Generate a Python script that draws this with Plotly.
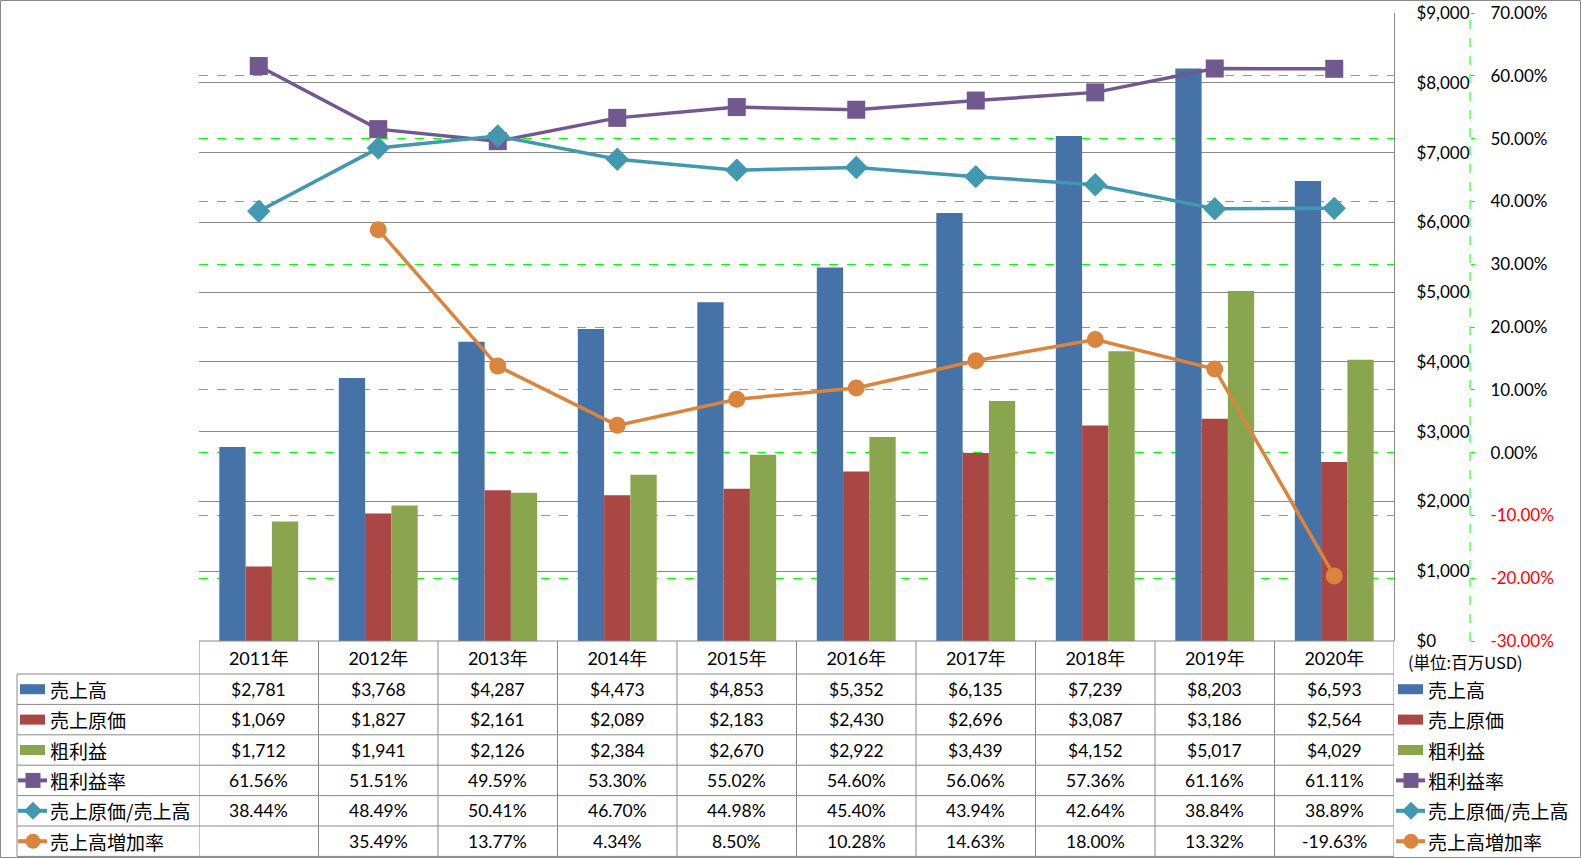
import plotly.graph_objects as go

# ---------------- data ----------------
years = ['2011年', '2012年', '2013年', '2014年', '2015年', '2016年', '2017年', '2018年', '2019年', '2020年']
sales = [2781, 3768, 4287, 4473, 4853, 5352, 6135, 7239, 8203, 6593]          # 売上高
cogs = [1069, 1827, 2161, 2089, 2183, 2430, 2696, 3087, 3186, 2564]            # 売上原価
gross = [1712, 1941, 2126, 2384, 2670, 2922, 3439, 4152, 5017, 4029]           # 粗利益
gm_rate = [61.56, 51.51, 49.59, 53.30, 55.02, 54.60, 56.06, 57.36, 61.16, 61.11]   # 粗利益率
cost_ratio = [38.44, 48.49, 50.41, 46.70, 44.98, 45.40, 43.94, 42.64, 38.84, 38.89]  # 売上原価/売上高
growth = [None, 35.49, 13.77, 4.34, 8.50, 10.28, 14.63, 18.00, 13.32, -19.63]      # 売上高増加率

pct_ticks = [-30, -20, -10, 0, 10, 20, 30, 40, 50, 60, 70]
usd_ticks = [0, 1000, 2000, 3000, 4000, 5000, 6000, 7000, 8000, 9000]
unit_label = '(単位:百万USD)'

# ---------------- style ----------------
W, H = 1581, 858
ML, MR, MT, MB = 199, 20, 13, 217
PW, PH = W - ML - MR, H - MT - MB
PLOT_RIGHT = 1394
AX2_X = 1470

C_BLUE, C_RED, C_GREEN = '#4572A7', '#AA4643', '#89A54E'
C_PURPLE, C_TEAL, C_ORANGE = '#71588F', '#4198AF', '#DB843D'
GRAY = '#898989'
LIME = '#00FF00'
NUM_FONT = 'Lato, Noto Sans CJK JP'
JP_FONT = 'Noto Sans CJK JP, Lato'


def px(x):
    return (x - ML) / PW


def py(y):
    return (H - MB - y) / PH


fig = go.Figure()

bar_series = [('売上高', sales, C_BLUE), ('売上原価', cogs, C_RED), ('粗利益', gross, C_GREEN)]
for name, vals, col in bar_series:
    fig.add_trace(go.Bar(x=years, y=vals, name=name, marker=dict(color=col, line=dict(width=0)),
                         showlegend=False))

line_series = [('粗利益率', gm_rate, C_PURPLE, 'square', 18),
               ('売上原価/売上高', cost_ratio, C_TEAL, 'diamond', 18),
               ('売上高増加率', growth, C_ORANGE, 'circle', 17)]
for name, vals, col, sym, size in line_series:
    fig.add_trace(go.Scatter(x=years, y=vals, name=name, yaxis='y2', mode='lines+markers',
                             line=dict(color=col, width=3.5),
                             marker=dict(symbol=sym, size=size, color=col, line=dict(width=0)),
                             showlegend=False))

pct_text = []
for v in pct_ticks:
    s = f'{v:.2f}%'
    pct_text.append(f"<span style='color:#FF0000'>{s}</span>" if v < 0 else s)

fig.update_layout(
    width=W, height=H,
    margin=dict(l=ML, r=MR, t=MT, b=MB, autoexpand=False),
    paper_bgcolor='white', plot_bgcolor='white',
    barmode='group', bargap=0.34, bargroupgap=0,
    font=dict(family=NUM_FONT, size=17, color='#000000'),
    xaxis=dict(domain=[0, (PLOT_RIGHT - ML) / PW], range=[-0.5, len(years) - 0.5],
               showgrid=False, zeroline=False, showline=False,
               ticks='', tickfont=dict(size=18, family=NUM_FONT), ticklabelstandoff=5,
               automargin=False),
    yaxis=dict(range=[0, 9000], tickvals=usd_ticks, ticktext=[f'${v:,}' for v in usd_ticks],
               side='right', anchor='x', showline=True, linecolor=GRAY, linewidth=1,
               showgrid=True, gridcolor=GRAY, gridwidth=1, zeroline=False, ticks='',
               ticklabelstandoff=18, tickfont=dict(size=17), automargin=False),
    yaxis2=dict(range=[-30, 70], tickvals=pct_ticks, ticktext=pct_text, overlaying='y',
                side='right', anchor='free', position=px(AX2_X), showline=False,
                showgrid=True, gridcolor=LIME, gridwidth=1, griddash='dash', zeroline=False,
                ticks='outside', ticklen=4, tickcolor=LIME, tickwidth=1,
                ticklabelstandoff=12, tickfont=dict(size=17), automargin=False),
)

shapes = []
annotations = []

# secondary axis line (dashed)
shapes.append(dict(type='line', xref='paper', yref='y2', x0=px(AX2_X), x1=px(AX2_X), y0=-30, y1=70,
                   line=dict(color=LIME, width=1, dash='dash')))

# outer chart border
shapes.append(dict(type='rect', xref='paper', yref='paper', x0=px(0.5), x1=px(W - 0.5),
                   y0=py(0.5), y1=py(H - 0.5), line=dict(color=GRAY, width=1)))

# ---------------- data table ----------------
HEAD_TOP, HEAD_BOT = 641, 674
ROW_H = 30.4
row_bounds = [HEAD_BOT + i * ROW_H for i in range(7)]
TABLE_LEFT = 17

shapes.append(dict(type='line', xref='paper', yref='paper', x0=px(ML), x1=px(PLOT_RIGHT),
                   y0=py(HEAD_TOP), y1=py(HEAD_TOP), line=dict(color=GRAY, width=1)))
for yb in row_bounds:
    shapes.append(dict(type='line', xref='paper', yref='paper', x0=px(TABLE_LEFT), x1=px(PLOT_RIGHT),
                       y0=py(yb), y1=py(yb), line=dict(color=GRAY, width=1)))
for i in range(len(years) + 1):
    shapes.append(dict(type='line', xref='x', yref='paper', x0=i - 0.5, x1=i - 0.5,
                       y0=py(HEAD_TOP), y1=py(row_bounds[-1]), line=dict(color=GRAY, width=1)))
shapes.append(dict(type='line', xref='paper', yref='paper', x0=px(TABLE_LEFT), x1=px(TABLE_LEFT),
                   y0=py(row_bounds[0]), y1=py(row_bounds[-1]), line=dict(color=GRAY, width=1)))

row_defs = [('売上高', [f'${v:,}' for v in sales], 'bar', C_BLUE, None),
            ('売上原価', [f'${v:,}' for v in cogs], 'bar', C_RED, None),
            ('粗利益', [f'${v:,}' for v in gross], 'bar', C_GREEN, None),
            ('粗利益率', [f'{v:.2f}%' for v in gm_rate], 'line', C_PURPLE, 'square'),
            ('売上原価/売上高', [f'{v:.2f}%' for v in cost_ratio], 'line', C_TEAL, 'diamond'),
            ('売上高増加率', ['' if v is None else f'{v:.2f}%' for v in growth], 'line', C_ORANGE, 'circle')]


def legend_icon(x0, yc, kind, col, sym):
    if kind == 'bar':
        shapes.append(dict(type='rect', xref='paper', yref='paper', x0=px(x0 + 2), x1=px(x0 + 27),
                           y0=py(yc - 5), y1=py(yc + 5), line=dict(width=0), fillcolor=col))
    else:
        shapes.append(dict(type='line', xref='paper', yref='paper', x0=px(x0), x1=px(x0 + 29),
                           y0=py(yc), y1=py(yc), line=dict(color=col, width=4)))
        cx = x0 + 15
        r = 7.5
        if sym == 'square':
            shapes.append(dict(type='rect', xref='paper', yref='paper', x0=px(cx - r), x1=px(cx + r),
                               y0=py(yc - r), y1=py(yc + r), line=dict(width=0), fillcolor=col))
        elif sym == 'circle':
            shapes.append(dict(type='circle', xref='paper', yref='paper', x0=px(cx - r), x1=px(cx + r),
                               y0=py(yc - r), y1=py(yc + r), line=dict(width=0), fillcolor=col))
        else:
            rd = 9
            path = (f'M {px(cx - rd)},{py(yc)} L {px(cx)},{py(yc - rd)} '
                    f'L {px(cx + rd)},{py(yc)} L {px(cx)},{py(yc + rd)} Z')
            shapes.append(dict(type='path', xref='paper', yref='paper', path=path,
                               line=dict(width=0), fillcolor=col))


for r, (label, texts, kind, col, sym) in enumerate(row_defs):
    yc = (row_bounds[r] + row_bounds[r + 1]) / 2
    legend_icon(18, yc, kind, col, sym)
    annotations.append(dict(xref='paper', yref='paper', x=px(48), y=py(yc), text=label,
                            showarrow=False, xanchor='left', yanchor='middle',
                            font=dict(family=JP_FONT, size=19, color='#000000')))
    legend_icon(1396, yc, kind, col, sym)
    annotations.append(dict(xref='paper', yref='paper', x=px(1426), y=py(yc), text=label,
                            showarrow=False, xanchor='left', yanchor='middle',
                            font=dict(family=JP_FONT, size=19, color='#000000')))
    for i, t in enumerate(texts):
        if t:
            annotations.append(dict(xref='x', yref='paper', x=years[i], y=py(yc), text=t,
                                    showarrow=False, xanchor='center', yanchor='middle',
                                    font=dict(family=NUM_FONT, size=17.5, color='#000000')))

annotations.append(dict(xref='paper', yref='paper', x=px(1406), y=py(662), text=unit_label,
                        showarrow=False, xanchor='left', yanchor='middle',
                        font=dict(family=JP_FONT, size=16.5, color='#000000')))

fig.update_layout(shapes=shapes, annotations=annotations)

post = ("document.body.style.margin='0';document.body.style.overflow='hidden';"
        "var d=document.getElementById('{plot_id}');d.style.position='absolute';"
        "d.style.left='0px';d.style.top='0px';")
fig.write_html('out.html', post_script=post, config={'displayModeBar': False})
